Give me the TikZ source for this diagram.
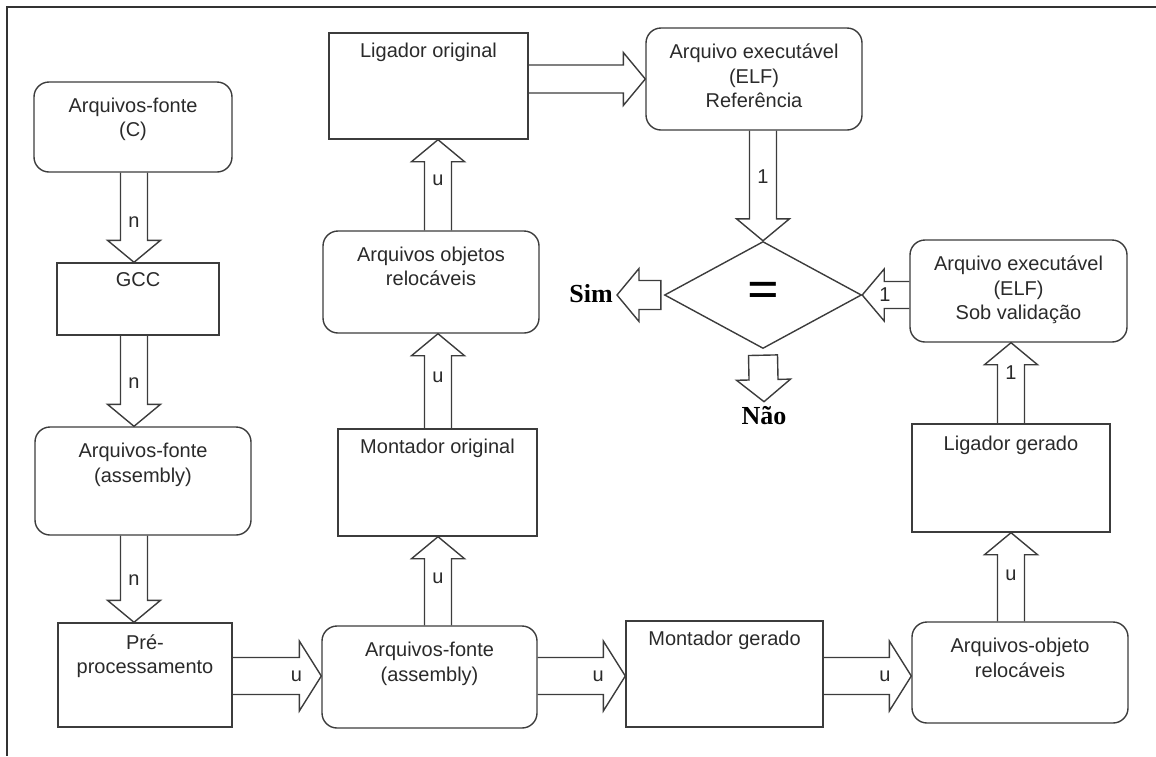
\documentclass[tikz,border=0pt]{standalone}
\usepackage{fontspec}
\setmainfont{Liberation Sans}
\newfontfamily\resfont{Liberation Serif}
\usepackage{tikz}
\usetikzlibrary{shapes.geometric}
\usetikzlibrary{calc}

\definecolor{linegray}{HTML}{3C3C3C}
\definecolor{txtgray}{HTML}{2A2A2A}

% fat open arrow: [end of path], from, to, half shaft, half head, label, label pos
\newcommand{\blockarrow}[7][]{%
  \draw[arrowline] let \p1=(#2), \p2=(#3),
      \n1={atan2(\y2-\y1,\x2-\x1)}, \n2={veclen(\x2-\x1,\y2-\y1)} in
    [shift={(\p1)}, rotate=\n1]
    (0pt,#4pt) -- (\n2-22pt,#4pt) -- (\n2-22pt,#5pt) -- (\n2,0pt)
    -- (\n2-22pt,-#5pt) -- (\n2-22pt,-#4pt) -- (0pt,-#4pt) #1
    (#7*\n2,0pt) node[arrowlbl] {#6};
}

\begin{document}
\begin{tikzpicture}[x=1pt,y=-1pt,
  box/.style={draw=linegray,line width=1.4pt,inner sep=0pt},
  proc/.style={box,rectangle},
  store/.style={box,rounded corners=15pt},
  ttl/.style={anchor=north,inner sep=0pt,align=center,text=txtgray,
    font=\fontsize{20}{24.5}\selectfont},
  ttlr/.style={ttl,yshift=-10.5pt},
  ttls/.style={ttl,yshift=-16.5pt},
  arrowline/.style={draw=linegray,line width=1.4pt,line join=miter},
  arrowlbl/.style={inner sep=0pt,text=txtgray,font=\fontsize{20}{24}\selectfont},
  decision/.style={box,diamond,minimum width=197,minimum height=107,
    font=\resfont\bfseries\fontsize{56}{56}\selectfont},
  res/.style={inner sep=4pt,font=\resfont\bfseries\fontsize{26}{30}\selectfont}]
\useasboundingbox (0,0) rectangle (1156,756);
\draw[line width=2pt,black!80] (1156,7) -- (7,7) -- (7,756);

% left column
\node[store,minimum width=198,minimum height=90,
  label={[ttls]north:{Arquivos-fonte\\(C)}}] (srcC) at (133,127) {};
\node[proc,minimum width=162,minimum height=72,
  label={[ttlr]north:GCC}] (gcc) at (138,299) {};
\node[store,minimum width=216,minimum height=108,
  label={[ttls]north:{Arquivos-fonte\\(assembly)}}] (asm1) at (143,481) {};
\node[proc,minimum width=174,minimum height=104,
  label={[ttlr,yshift=-1.5pt]north:{Pré-\\processamento}}] (pre) at (145,675) {};

% middle column
\node[proc,minimum width=199,minimum height=106,
  label={[ttlr]north:Ligador original}] (ligOrig) at (428.5,86) {};
\node[store,minimum width=216,minimum height=102,
  label={[ttls]north:{Arquivos objetos\\relocáveis}}] (objs) at (431,282) {};
\node[proc,minimum width=199,minimum height=107,
  label={[ttlr]north:Montador original}] (montOrig) at (437.5,482.5) {};
\node[store,minimum width=215,minimum height=102,
  label={[ttls]north:{Arquivos-fonte\\(assembly)}}] (asm2) at (429.5,677) {};

% right part
\node[store,minimum width=216,minimum height=102,
  label={[ttls]north:{Arquivo executável\\(ELF)\\Referência}}] (exeRef) at (754,79) {};
\node[decision] (cmp) at (763,295) {=};
\node[res,anchor=base east] (sim) at (617,302) {Sim};
\node[res,anchor=base] (nao) at (764,424) {Não};
\node[store,minimum width=217,minimum height=102,
  label={[ttls]north:{Arquivo executável\\(ELF)\\Sob validação}}] (exe2) at (1018.5,291) {};
\node[proc,minimum width=198,minimum height=108,
  label={[ttlr,yshift=-2pt]north:Ligador gerado}] (ligGer) at (1011,478) {};
\node[store,minimum width=216,minimum height=101,
  label={[ttls]north:{Arquivos-objeto\\relocáveis}}] (obj) at (1020,672.5) {};
\node[proc,minimum width=197,minimum height=106,
  label={[ttlr]north:Montador gerado}] (mg) at (724.5,674) {};

\coordinate (colA) at (134,0);
\coordinate (colB) at (438,0);
\coordinate (colC) at (1011,0);
\coordinate (rowD) at (0,676);

% arrows
\blockarrow{colA |- srcC.south}{colA |- gcc.north}{13.5}{26.5}{n}{0.55}
\blockarrow{colA |- gcc.south}{colA |- asm1.north}{13.5}{26.5}{n}{0.52}
\blockarrow{colA |- asm1.south}{colA |- pre.north}{13.5}{26.5}{n}{0.51}
\blockarrow{pre.east |- rowD}{asm2.west |- rowD}{18.5}{35}{u}{0.72}
\blockarrow{asm2.east |- rowD}{mg.west |- rowD}{18.5}{35}{u}{0.69}
\blockarrow{mg.east |- rowD}{obj.west |- rowD}{18.5}{35}{u}{0.70}
\blockarrow{colB |- asm2.north}{colB |- montOrig.south}{13.5}{26.5}{u}{0.53}
\blockarrow{colB |- montOrig.north}{colB |- objs.south}{13.5}{26.5}{u}{0.54}
\blockarrow{colB |- objs.north}{colB |- ligOrig.south}{13.5}{26.5}{u}{0.55}
\blockarrow{ligOrig.east |- exeRef.west}{exeRef.west}{14}{26.5}{}{0.5}
\blockarrow{cmp.north |- exeRef.south}{cmp.north}{13.5}{26.5}{1}{0.42}
\blockarrow{exe2.west |- cmp.east}{cmp.east}{13.5}{26}{1}{0.52}
\blockarrow{colC |- obj.north}{colC |- ligGer.south}{13.5}{26.5}{u}{0.52}
\blockarrow{colC |- ligGer.north}{colC |- exe2.south}{13.5}{26.5}{1}{0.63}
\blockarrow[-- cycle]{$(cmp.west)+(-3,0)$}{sim.east |- cmp.west}{14.5}{26.5}{}{0.5}
\blockarrow[-- cycle]{$(cmp.south)+(0,6)$}{nao.north}{14.5}{27}{}{0.5}
\end{tikzpicture}
\end{document}
